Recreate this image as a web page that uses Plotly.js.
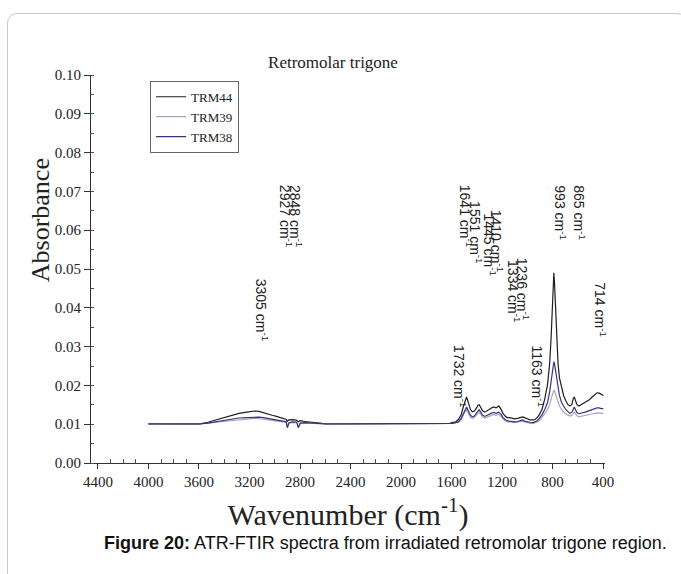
<!DOCTYPE html>
<html>
<head>
<meta charset="utf-8">
<script src="https://cdn.plot.ly/plotly-3.0.1.min.js"></script>
<style>
  html, body { margin: 0; padding: 0; background: #ffffff; }
  #frame { position: absolute; left: 7px; top: 13px; width: 680px; height: 620px;
           border: 1.5px solid #c9c9c9; border-radius: 10px; box-sizing: border-box; }
  #chart { position: absolute; left: 0; top: 0; width: 681px; height: 574px; }
</style>
</head>
<body>
<div id="frame"></div>
<div id="chart"></div>
<script>
// Wavenumber positions as read against the chart's x axis (cm-1)
var wavenumber = [4000, 3780, 3655, 3592, 3530, 3469, 3407, 3345, 3283, 3222,
  3160, 3125, 3090, 3056, 3021, 2986, 2951, 2923, 2909, 2900,
  2887, 2859, 2826, 2813, 2798, 2760, 2705, 2649, 2594, 2539,
  2318, 2098, 1877, 1656, 1612, 1590, 1581, 1568, 1546, 1524,
  1507, 1491, 1481, 1469, 1452, 1436, 1419, 1402, 1391, 1381,
  1369, 1353, 1336, 1320, 1303, 1287, 1272, 1264, 1248, 1235,
  1226, 1209, 1193, 1176, 1160, 1142, 1121, 1099, 1077, 1055,
  1038, 1022, 1000, 978, 953, 939, 922, 906, 884, 862,
  840, 823, 812, 804, 796, 790, 784, 776, 766, 757,
  746, 729, 713, 696, 680, 663, 647, 636, 628, 619,
  608, 591, 569, 542, 509, 487, 464, 448, 431, 415,
  398];

var trm44 = [0.0101, 0.0101, 0.0101, 0.0101, 0.0105, 0.0111, 0.0117, 0.0123, 0.0128, 0.0131,
  0.0134, 0.0133, 0.0129, 0.0126, 0.0123, 0.0120, 0.0117, 0.0114, 0.0112, 0.0108,
  0.0111, 0.0112, 0.0110, 0.0106, 0.0109, 0.0107, 0.0105, 0.0102, 0.0101, 0.0101,
  0.0101, 0.0101, 0.0101, 0.0101, 0.0102, 0.0105, 0.0106, 0.0106, 0.0112, 0.0124,
  0.0145, 0.0165, 0.0170, 0.0158, 0.0139, 0.0132, 0.0134, 0.0142, 0.0149, 0.0150,
  0.0143, 0.0134, 0.0131, 0.0135, 0.0139, 0.0141, 0.0144, 0.0144, 0.0142, 0.0145,
  0.0147, 0.0139, 0.0128, 0.0121, 0.0117, 0.0117, 0.0115, 0.0114, 0.0115, 0.0118,
  0.0119, 0.0117, 0.0113, 0.0111, 0.0111, 0.0112, 0.0117, 0.0124, 0.0138, 0.0165,
  0.0202, 0.0257, 0.0321, 0.0385, 0.0459, 0.0490, 0.0459, 0.0385, 0.0312, 0.0257,
  0.0220, 0.0193, 0.0174, 0.0161, 0.0151, 0.0147, 0.0151, 0.0167, 0.0170, 0.0161,
  0.0151, 0.0147, 0.0151, 0.0156, 0.0163, 0.0170, 0.0177, 0.0181, 0.0180, 0.0176,
  0.0174];

var trm39 = [0.0101, 0.0101, 0.0101, 0.0101, 0.0102, 0.0105, 0.0107, 0.0110, 0.0112, 0.0114,
  0.0115, 0.0114, 0.0113, 0.0111, 0.0110, 0.0108, 0.0107, 0.0106, 0.0105, 0.0092,
  0.0103, 0.0104, 0.0104, 0.0092, 0.0102, 0.0103, 0.0102, 0.0101, 0.0101, 0.0101,
  0.0101, 0.0101, 0.0101, 0.0101, 0.0101, 0.0101, 0.0102, 0.0103, 0.0105, 0.0112,
  0.0124, 0.0134, 0.0137, 0.0129, 0.0118, 0.0115, 0.0117, 0.0124, 0.0128, 0.0130,
  0.0126, 0.0118, 0.0116, 0.0118, 0.0121, 0.0123, 0.0125, 0.0125, 0.0123, 0.0125,
  0.0126, 0.0120, 0.0114, 0.0108, 0.0106, 0.0106, 0.0105, 0.0104, 0.0105, 0.0107,
  0.0108, 0.0106, 0.0103, 0.0102, 0.0102, 0.0103, 0.0106, 0.0109, 0.0117, 0.0127,
  0.0138, 0.0151, 0.0165, 0.0176, 0.0185, 0.0188, 0.0185, 0.0177, 0.0165, 0.0156,
  0.0147, 0.0138, 0.0131, 0.0127, 0.0124, 0.0121, 0.0123, 0.0130, 0.0131, 0.0127,
  0.0122, 0.0119, 0.0121, 0.0123, 0.0125, 0.0127, 0.0128, 0.0129, 0.0129, 0.0128,
  0.0128];

var trm38 = [0.0101, 0.0101, 0.0101, 0.0101, 0.0103, 0.0106, 0.0110, 0.0113, 0.0116, 0.0117,
  0.0118, 0.0118, 0.0117, 0.0115, 0.0113, 0.0111, 0.0109, 0.0107, 0.0106, 0.0091,
  0.0104, 0.0106, 0.0105, 0.0091, 0.0103, 0.0104, 0.0103, 0.0101, 0.0101, 0.0101,
  0.0101, 0.0101, 0.0101, 0.0101, 0.0101, 0.0102, 0.0103, 0.0104, 0.0106, 0.0115,
  0.0128, 0.0140, 0.0144, 0.0136, 0.0124, 0.0119, 0.0121, 0.0129, 0.0135, 0.0137,
  0.0131, 0.0123, 0.0120, 0.0123, 0.0127, 0.0128, 0.0130, 0.0130, 0.0128, 0.0130,
  0.0131, 0.0126, 0.0117, 0.0112, 0.0109, 0.0108, 0.0107, 0.0106, 0.0107, 0.0110,
  0.0111, 0.0108, 0.0106, 0.0105, 0.0104, 0.0106, 0.0109, 0.0115, 0.0124, 0.0138,
  0.0156, 0.0184, 0.0211, 0.0234, 0.0252, 0.0261, 0.0255, 0.0239, 0.0216, 0.0193,
  0.0174, 0.0156, 0.0147, 0.0138, 0.0133, 0.0128, 0.0131, 0.0142, 0.0144, 0.0138,
  0.0130, 0.0127, 0.0128, 0.0131, 0.0135, 0.0138, 0.0141, 0.0142, 0.0142, 0.0140,
  0.0140];

var seriesNames = ["TRM44", "TRM39", "TRM38"];

// Peak labels (cm-1)
var peakLabels = [3305, 2927, 2848, 1732, 1641, 1551, 1445, 1410, 1334, 1236, 1163, 993, 865, 714];
// Where each rotated label sits: axis position and the absorbance level of its top
var peakLabelX = [3101, 2911, 2832, 1533, 1485, 1406, 1295, 1240, 1105, 1034, 915, 741, 590, 424];
var peakLabelTop = [0.048, 0.0722, 0.0722, 0.0309, 0.0722, 0.068, 0.0648, 0.0658, 0.0528, 0.0534, 0.0309, 0.0722, 0.0722, 0.0472];

var xTicks = [4400, 4000, 3600, 3200, 2800, 2400, 2000, 1600, 1200, 800, 400];
var xMinorTicks = [4300, 4200, 4100, 3900, 3800, 3700, 3500, 3400, 3300, 3100, 3000, 2900,
  2700, 2600, 2500, 2300, 2200, 2100, 1900, 1800, 1700, 1500, 1400, 1300, 1100, 1000, 900, 700, 600, 500];

var colors = ["#1e1e1e", "#a6a6c4", "#34347e"];
var seriesValues = [trm44, trm39, trm38];

var traces = seriesNames.map(function (n, i) {
  return {
    type: "scatter", mode: "lines", name: n,
    x: wavenumber, y: seriesValues[i],
    line: { color: colors[i], width: 1.2 }
  };
});

var serif = "Liberation Serif, Times New Roman, serif";
var sans = "Liberation Sans, Arial, sans-serif";

var annotations = peakLabels.map(function (p, i) {
  return {
    x: peakLabelX[i], y: peakLabelTop[i], xref: "x", yref: "y",
    text: p + " cm<sup>-1</sup>", showarrow: false, textangle: 90,
    xanchor: "center", yanchor: "top",
    font: { family: sans, size: 14, color: "#222" }
  };
});

// y-axis title (placed above the axis centre, as in the source figure)
annotations.push({
  xref: "paper", yref: "paper", x: -0.099, y: 0.626,
  xanchor: "center", yanchor: "middle", showarrow: false, textangle: -90,
  text: "Absorbance",
  font: { family: serif, size: 26, color: "#222" }
});

annotations.push({
  xref: "paper", yref: "paper", x: 0.572, y: -0.206,
  xanchor: "center", yanchor: "middle", showarrow: false,
  text: "<b>Figure 20:</b> ATR-FTIR spectra from irradiated retromolar trigone region.",
  font: { family: sans, size: 18, color: "#111" }
});

var layout = {
  width: 681, height: 574,
  margin: { l: 91, r: 76, t: 75, b: 111 },
  paper_bgcolor: "rgba(0,0,0,0)",
  plot_bgcolor: "rgba(0,0,0,0)",
  showlegend: true,
  title: {
    text: "Retromolar trigone",
    font: { family: serif, size: 17, color: "#222" },
    xref: "container", yref: "container", x: 0.489, y: 0.892,
    xanchor: "center", yanchor: "middle"
  },
  xaxis: {
    range: [4455, 385], tickmode: "array", tickvals: xTicks,
    showgrid: false, zeroline: false,
    showline: true, linecolor: "#333", linewidth: 1,
    ticks: "outside", ticklen: 5, tickcolor: "#333",
    minor: { tickvals: xMinorTicks, ticks: "inside", ticklen: 4, tickcolor: "#555", showgrid: false },
    tickfont: { family: serif, size: 15, color: "#222" },
    title: { text: "Wavenumber (cm<sup>-1</sup>)", font: { family: serif, size: 30, color: "#222" }, standoff: 14 }
  },
  yaxis: {
    range: [0, 0.1], dtick: 0.01, tickformat: ".2f",
    showgrid: false, zeroline: false,
    showline: true, linecolor: "#333", linewidth: 1,
    ticks: "outside", ticklen: 6, tickcolor: "#333",
    minor: { dtick: 0.005, ticks: "inside", ticklen: 3, tickcolor: "#555", showgrid: false },
    tickfont: { family: serif, size: 15, color: "#222" }
  },
  legend: {
    x: 0.115, y: 0.985, xanchor: "left", yanchor: "top",
    bgcolor: "#ffffff", bordercolor: "#666", borderwidth: 1,
    font: { family: serif, size: 13, color: "#222" },
    tracegroupgap: 0, itemwidth: 30
  },
  annotations: annotations
};

Plotly.newPlot("chart", traces, layout, { displayModeBar: false, staticPlot: true });
</script>
</body>
</html>
